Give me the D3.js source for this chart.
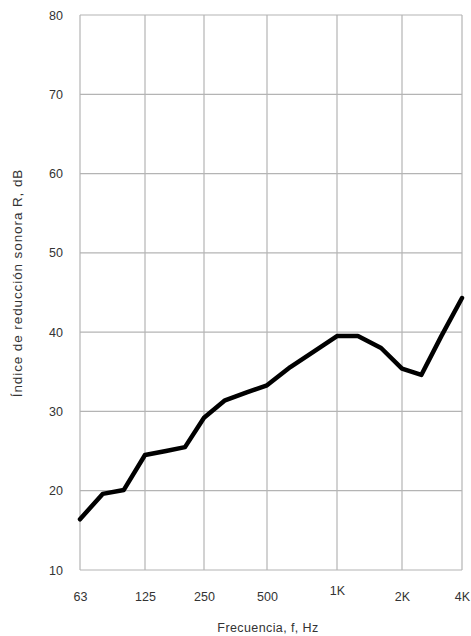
<!DOCTYPE html>
<html>
<head>
<meta charset="utf-8">
<script src="https://cdn.jsdelivr.net/npm/d3@7"></script>
<style>
  body { margin: 0; background: #fff; }
  text { font-family: "Liberation Sans", Arial, sans-serif; fill: #333; }
</style>
</head>
<body>
<svg id="chart" width="471" height="636"></svg>
<script>
'use strict';

// third-octave band centres, Hz
var frequencies = [63, 80, 100, 125, 160, 200, 250, 315, 400, 500, 630, 800, 1000, 1250, 1600, 2000, 2500, 3150, 4000];
// sound reduction index R, dB
var reduction = [16.4, 19.6, 20.1, 24.5, 25.0, 25.5, 29.2, 31.4, 32.4, 33.3, 35.6, 37.6, 39.5, 39.5, 38.0, 35.4, 34.6, 39.5, 44.3];

var octaveTicks = [63, 125, 250, 500, 1000, 2000, 4000];
var octaveLabels = ['63', '125', '250', '500', '1K', '2K', '4K'];
var yTicks = [10, 20, 30, 40, 50, 60, 70, 80];

var svg = d3.select('#chart');

// the octave grid in the original is not quite evenly spaced
var x = d3.scaleLog().domain(octaveTicks).range([80, 145, 204, 267, 337, 402, 462]);
var y = d3.scaleLinear().domain([10, 80]).range([570, 15]);

// grid
svg.append('g').attr('class', 'grid-y').selectAll('line').data(yTicks).enter().append('line')
    .attr('x1', x(63)).attr('x2', x(4000))
    .attr('y1', function (d) { return y(d); }).attr('y2', function (d) { return y(d); })
    .attr('stroke', '#b4b4b4').attr('stroke-width', 1.2);

svg.append('g').attr('class', 'grid-x').selectAll('line').data(octaveTicks).enter().append('line')
    .attr('x1', function (d) { return x(d); }).attr('x2', function (d) { return x(d); })
    .attr('y1', y(80)).attr('y2', y(10))
    .attr('stroke', '#b4b4b4').attr('stroke-width', 1.2);

// axes, labels only
var yAxis = svg.append('g').attr('transform', 'translate(' + (x(63) - 17) + ',0)')
    .call(d3.axisLeft(y).tickValues(yTicks).tickSize(0).tickPadding(0));
yAxis.select('.domain').remove();
yAxis.selectAll('text').attr('font-size', 12.5).attr('fill', '#333').style('font-family', '"Liberation Sans", Arial, sans-serif');

var xAxis = svg.append('g').attr('transform', 'translate(0,' + (y(10) + 22) + ')')
    .call(d3.axisBottom(x).tickValues(octaveTicks).tickSize(0).tickPadding(0)
        .tickFormat(function (d, i) { return octaveLabels[i]; }));
xAxis.select('.domain').remove();
xAxis.selectAll('text').attr('font-size', 12.5).attr('fill', '#333').style('font-family', '"Liberation Sans", Arial, sans-serif')
    .attr('dy', function (d) { return d === 1000 ? '0.2em' : '0.71em'; });

// axis titles
svg.append('text').attr('x', 268).attr('y', 632).attr('text-anchor', 'middle')
    .attr('font-size', 12.5).attr('letter-spacing', 0.4).text('Frecuencia, f, Hz');

svg.append('text').attr('transform', 'translate(22,283) rotate(-90)').attr('text-anchor', 'middle')
    .attr('font-size', 13.5).attr('letter-spacing', 0.9).text('Índice de reducción sonora R, dB');

// curve
var line = d3.line()
    .x(function (d, i) { return x(frequencies[i]); })
    .y(function (d) { return y(d); });

svg.append('path').datum(reduction)
    .attr('d', line)
    .attr('fill', 'none')
    .attr('stroke', '#000')
    .attr('stroke-width', 4.5)
    .attr('stroke-linejoin', 'round')
    .attr('stroke-linecap', 'round');
</script>
</body>
</html>
